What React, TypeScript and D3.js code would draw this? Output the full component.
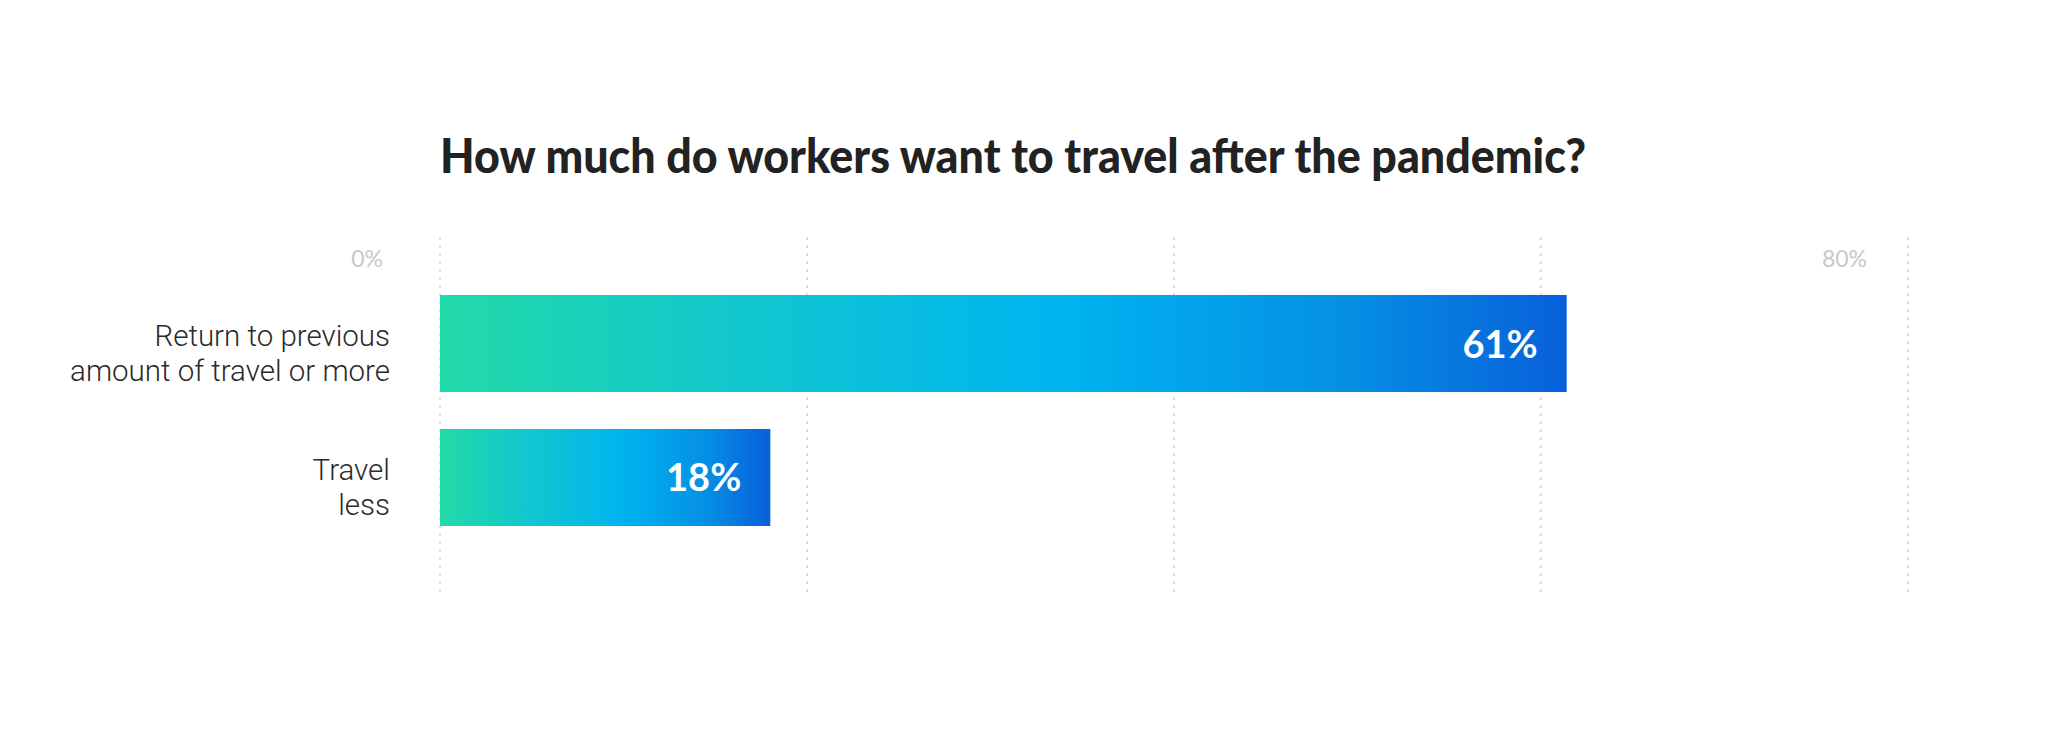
import React from "react";
import * as d3 from "d3";

const title = "How much do workers want to travel after the pandemic?";
const categories = ["Return to previous amount of travel or more", "Travel less"];
const categoryLines = [["Return to previous", "amount of travel or more"], ["Travel", "less"]];
const values = [61.4, 18];
const gridTicks = [0, 20, 40, 60, 80];
const tickLabels = [
  { value: 0, label: "0%" },
  { value: 80, label: "80%" },
];

const W = 2048;
const H = 732;

export default function App() {
  const x = d3.scaleLinear().domain([0, 80]).range([440, 1908]);
  const y = d3
    .scaleBand<string>()
    .domain(categories)
    .range([295, 526])
    .paddingInner(0.276)
    .paddingOuter(0);
  const bw = y.bandwidth();
  const fmt = d3.format(".0f");

  return (
    <svg
      width={W}
      height={H}
      style={{ position: "absolute", left: 0, top: 0, background: "#fff" }}
    >
      <defs>
        <linearGradient id="barGrad" x1="0" y1="0" x2="1" y2="0">
          <stop offset="0" stopColor="#22daa8" />
          <stop offset="0.25" stopColor="#12c8cc" />
          <stop offset="0.55" stopColor="#00b4f0" />
          <stop offset="0.8" stopColor="#0590e4" />
          <stop offset="1" stopColor="#0860da" />
        </linearGradient>
      </defs>

      <text
        x={440}
        y={173}
        fontFamily="Lato, 'Open Sans', sans-serif"
        fontWeight={900}
        fontSize={47}
        fill="#222222"
        textLength={1146}
        lengthAdjust="spacingAndGlyphs"
      >
        {title}
      </text>

      {gridTicks.map((t) => (
        <line
          key={t}
          x1={x(t)}
          x2={x(t)}
          y1={237}
          y2={593}
          stroke="#d4d4d4"
          strokeWidth={1.5}
          strokeDasharray="3 5"
        />
      ))}

      {tickLabels.map((t) => (
        <text
          key={t.label}
          x={x(t.value) - (t.value === 0 ? 57 : 41)}
          y={267}
          textAnchor="end"
          fontFamily="Lato, 'Open Sans', sans-serif"
          fontSize={23}
          fill="#c8c8c8"
        >
          {t.label}
        </text>
      ))}

      {categories.map((c, i) => {
        const y0 = y(c) as number;
        const cy = y0 + bw / 2;
        return (
          <g key={c}>
            <rect
              x={x(0)}
              y={y0}
              width={x(values[i]) - x(0)}
              height={bw}
              fill="url(#barGrad)"
            />
            <text
              x={x(values[i]) - 29}
              y={cy + 14}
              textAnchor="end"
              fontFamily="Lato, 'Open Sans', sans-serif"
              fontWeight={700}
              fontSize={38}
              fill="#ffffff"
            >
              {fmt(values[i])}%
            </text>
            {categoryLines[i].map((line, j) => (
              <text
                key={j}
                x={390}
                y={cy + 2.5 + j * 35}
                textAnchor="end"
                fontFamily="Roboto, Lato, sans-serif"
                fontWeight={300}
                fontSize={29.5}
                fill="#2a2a2a"
              >
                {line}
              </text>
            ))}
          </g>
        );
      })}
    </svg>
  );
}
